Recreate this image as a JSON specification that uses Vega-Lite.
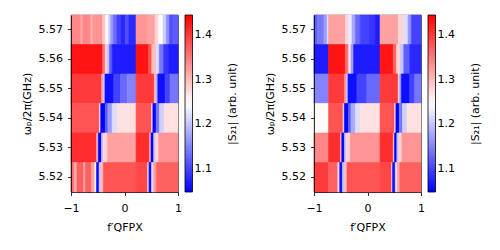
{
  "$schema": "https://vega.github.io/schema/vega-lite/v6.json",
  "padding": {"left": 20, "top": 14, "right": 5, "bottom": 5},
  "background": "white",
  "spacing": 24,
  "config": {
    "font": "DejaVu Sans",
    "view": {"stroke": "black", "strokeWidth": 0.8},
    "axis": {"labelFontSize": 11, "titleFontSize": 11, "titleFontWeight": "normal", "labelColor": "black", "titleColor": "black", "domainColor": "black", "tickColor": "black", "grid": false, "tickSize": 3.5, "domainWidth": 0.8, "tickWidth": 0.8, "labelOverlap": false},
    "legend": {"gradientLength": 177, "gradientThickness": 7.5, "offset": 7, "padding": 0, "labelFontSize": 11, "labelColor": "black", "titleFontSize": 11, "titleFontWeight": "normal", "titleColor": "black", "titleOrient": "right", "titlePadding": 15, "labelOffset": 10, "gradientStrokeColor": "black", "gradientStrokeWidth": 0.8, "labelOverlap": false}
  },
  "datasets": {
    "A": [
      {"w":5.57,"a":-1,"b":-0.815,"s":1.34},{"w":5.57,"a":-0.815,"b":-0.78,"s":1.31},{"w":5.57,"a":-0.78,"b":-0.63,"s":1.34},{"w":5.57,"a":-0.63,"b":-0.59,"s":1.31},{"w":5.57,"a":-0.59,"b":-0.41,"s":1.33},{"w":5.57,"a":-0.41,"b":-0.35,"s":1.29},{"w":5.57,"a":-0.35,"b":-0.3,"s":1.25},{"w":5.57,"a":-0.3,"b":-0.26,"s":1.21},{"w":5.57,"a":-0.26,"b":-0.21,"s":1.17},{"w":5.57,"a":-0.21,"b":-0.14,"s":1.13},{"w":5.57,"a":-0.14,"b":-0.07,"s":1.1},{"w":5.57,"a":-0.07,"b":0.02,"s":1.08},{"w":5.57,"a":0.02,"b":0.08,"s":1.11},{"w":5.57,"a":0.08,"b":0.216,"s":1.08},{"w":5.57,"a":0.216,"b":0.42,"s":1.33},{"w":5.57,"a":0.42,"b":0.57,"s":1.32},{"w":5.57,"a":0.57,"b":0.64,"s":1.28},{"w":5.57,"a":0.64,"b":0.72,"s":1.25},{"w":5.57,"a":0.72,"b":0.78,"s":1.21},{"w":5.57,"a":0.78,"b":0.84,"s":1.16},{"w":5.57,"a":0.84,"b":0.91,"s":1.11},{"w":5.57,"a":0.91,"b":1,"s":1.12},
      {"w":5.56,"a":-1,"b":-0.41,"s":1.43},{"w":5.56,"a":-0.41,"b":-0.36,"s":1.36},{"w":5.56,"a":-0.36,"b":-0.32,"s":1.28},{"w":5.56,"a":-0.32,"b":-0.28,"s":1.2},{"w":5.56,"a":-0.28,"b":-0.23,"s":1.12},{"w":5.56,"a":-0.23,"b":0.216,"s":1.07},{"w":5.56,"a":0.216,"b":0.45,"s":1.43},{"w":5.56,"a":0.45,"b":0.51,"s":1.38},{"w":5.56,"a":0.51,"b":0.59,"s":1.3},{"w":5.56,"a":0.59,"b":0.65,"s":1.22},{"w":5.56,"a":0.65,"b":0.73,"s":1.14},{"w":5.56,"a":0.73,"b":0.82,"s":1.09},{"w":5.56,"a":0.82,"b":1,"s":1.07},
      {"w":5.55,"a":-1,"b":-0.43,"s":1.4},{"w":5.55,"a":-0.43,"b":-0.395,"s":1.32},{"w":5.55,"a":-0.395,"b":-0.365,"s":1.2},{"w":5.55,"a":-0.365,"b":-0.2,"s":1.06},{"w":5.55,"a":-0.2,"b":-0.075,"s":1.1},{"w":5.55,"a":-0.075,"b":0.05,"s":1.13},{"w":5.55,"a":0.05,"b":0.216,"s":1.15},{"w":5.55,"a":0.216,"b":0.556,"s":1.4},{"w":5.55,"a":0.556,"b":0.593,"s":1.3},{"w":5.55,"a":0.593,"b":0.623,"s":1.18},{"w":5.55,"a":0.623,"b":0.76,"s":1.06},{"w":5.55,"a":0.76,"b":0.85,"s":1.1},{"w":5.55,"a":0.85,"b":1,"s":1.14},
      {"w":5.54,"a":-1,"b":-0.47,"s":1.38},{"w":5.54,"a":-0.47,"b":-0.445,"s":1.28},{"w":5.54,"a":-0.445,"b":-0.36,"s":1.05},{"w":5.54,"a":-0.36,"b":-0.31,"s":1.12},{"w":5.54,"a":-0.31,"b":-0.23,"s":1.17},{"w":5.54,"a":-0.23,"b":-0.14,"s":1.22},{"w":5.54,"a":-0.14,"b":0.216,"s":1.27},{"w":5.54,"a":0.216,"b":0.505,"s":1.38},{"w":5.54,"a":0.505,"b":0.53,"s":1.28},{"w":5.54,"a":0.53,"b":0.59,"s":1.05},{"w":5.54,"a":0.59,"b":0.655,"s":1.14},{"w":5.54,"a":0.655,"b":0.74,"s":1.21},{"w":5.54,"a":0.74,"b":1,"s":1.27},
      {"w":5.53,"a":-1,"b":-0.52,"s":1.41},{"w":5.53,"a":-0.52,"b":-0.49,"s":1.3},{"w":5.53,"a":-0.49,"b":-0.43,"s":1.05},{"w":5.53,"a":-0.43,"b":-0.395,"s":1.2},{"w":5.53,"a":-0.395,"b":-0.32,"s":1.28},{"w":5.53,"a":-0.32,"b":0.216,"s":1.32},{"w":5.53,"a":0.216,"b":0.47,"s":1.41},{"w":5.53,"a":0.47,"b":0.495,"s":1.3},{"w":5.53,"a":0.495,"b":0.545,"s":1.05},{"w":5.53,"a":0.545,"b":0.58,"s":1.2},{"w":5.53,"a":0.58,"b":0.64,"s":1.28},{"w":5.53,"a":0.64,"b":1,"s":1.33},
      {"w":5.52,"a":-1,"b":-0.94,"s":1.36},{"w":5.52,"a":-0.94,"b":-0.89,"s":1.31},{"w":5.52,"a":-0.89,"b":-0.765,"s":1.37},{"w":5.52,"a":-0.765,"b":-0.73,"s":1.32},{"w":5.52,"a":-0.73,"b":-0.62,"s":1.37},{"w":5.52,"a":-0.62,"b":-0.555,"s":1.32},{"w":5.52,"a":-0.555,"b":-0.525,"s":1.25},{"w":5.52,"a":-0.525,"b":-0.475,"s":1.06},{"w":5.52,"a":-0.475,"b":-0.445,"s":1.2},{"w":5.52,"a":-0.445,"b":-0.395,"s":1.3},{"w":5.52,"a":-0.395,"b":0.216,"s":1.38},{"w":5.52,"a":0.216,"b":0.43,"s":1.39},{"w":5.52,"a":0.43,"b":0.457,"s":1.28},{"w":5.52,"a":0.457,"b":0.506,"s":1.06},{"w":5.52,"a":0.506,"b":0.543,"s":1.22},{"w":5.52,"a":0.543,"b":0.593,"s":1.32},{"w":5.52,"a":0.593,"b":1,"s":1.37}
    ],
    "B": [
      {"w":5.57,"a":-1,"b":-0.94,"s":1.12},{"w":5.57,"a":-0.94,"b":-0.815,"s":1.14},{"w":5.57,"a":-0.815,"b":-0.755,"s":1.17},{"w":5.57,"a":-0.755,"b":-0.728,"s":1.22},{"w":5.57,"a":-0.728,"b":-0.414,"s":1.32},{"w":5.57,"a":-0.414,"b":-0.352,"s":1.28},{"w":5.57,"a":-0.352,"b":-0.29,"s":1.23},{"w":5.57,"a":-0.29,"b":-0.228,"s":1.18},{"w":5.57,"a":-0.228,"b":-0.136,"s":1.13},{"w":5.57,"a":-0.136,"b":0.02,"s":1.1},{"w":5.57,"a":0.02,"b":0.142,"s":1.09},{"w":5.57,"a":0.142,"b":0.235,"s":1.07},{"w":5.57,"a":0.235,"b":0.574,"s":1.32},{"w":5.57,"a":0.574,"b":0.667,"s":1.28},{"w":5.57,"a":0.667,"b":0.76,"s":1.22},{"w":5.57,"a":0.76,"b":0.82,"s":1.16},{"w":5.57,"a":0.82,"b":1,"s":1.1},
      {"w":5.56,"a":-1,"b":-0.728,"s":1.07},{"w":5.56,"a":-0.728,"b":-0.414,"s":1.43},{"w":5.56,"a":-0.414,"b":-0.352,"s":1.36},{"w":5.56,"a":-0.352,"b":-0.309,"s":1.27},{"w":5.56,"a":-0.309,"b":-0.259,"s":1.17},{"w":5.56,"a":-0.259,"b":0.235,"s":1.07},{"w":5.56,"a":0.235,"b":0.481,"s":1.43},{"w":5.56,"a":0.481,"b":0.543,"s":1.37},{"w":5.56,"a":0.543,"b":0.617,"s":1.28},{"w":5.56,"a":0.617,"b":0.679,"s":1.2},{"w":5.56,"a":0.679,"b":0.79,"s":1.12},{"w":5.56,"a":0.79,"b":1,"s":1.08},
      {"w":5.55,"a":-1,"b":-0.728,"s":1.15},{"w":5.55,"a":-0.728,"b":-0.432,"s":1.4},{"w":5.55,"a":-0.432,"b":-0.395,"s":1.33},{"w":5.55,"a":-0.395,"b":-0.364,"s":1.2},{"w":5.55,"a":-0.364,"b":-0.198,"s":1.06},{"w":5.55,"a":-0.198,"b":-0.012,"s":1.1},{"w":5.55,"a":-0.012,"b":0.235,"s":1.13},{"w":5.55,"a":0.235,"b":0.574,"s":1.4},{"w":5.55,"a":0.574,"b":0.605,"s":1.28},{"w":5.55,"a":0.605,"b":0.636,"s":1.16},{"w":5.55,"a":0.636,"b":0.79,"s":1.06},{"w":5.55,"a":0.79,"b":0.883,"s":1.1},{"w":5.55,"a":0.883,"b":1,"s":1.14},
      {"w":5.54,"a":-1,"b":-0.728,"s":1.25},{"w":5.54,"a":-0.728,"b":-0.457,"s":1.38},{"w":5.54,"a":-0.457,"b":-0.432,"s":1.28},{"w":5.54,"a":-0.432,"b":-0.358,"s":1.05},{"w":5.54,"a":-0.358,"b":-0.309,"s":1.12},{"w":5.54,"a":-0.309,"b":-0.228,"s":1.18},{"w":5.54,"a":-0.228,"b":-0.136,"s":1.22},{"w":5.54,"a":-0.136,"b":0.235,"s":1.27},{"w":5.54,"a":0.235,"b":0.506,"s":1.38},{"w":5.54,"a":0.506,"b":0.531,"s":1.28},{"w":5.54,"a":0.531,"b":0.593,"s":1.05},{"w":5.54,"a":0.593,"b":0.654,"s":1.14},{"w":5.54,"a":0.654,"b":0.741,"s":1.21},{"w":5.54,"a":0.741,"b":1,"s":1.27},
      {"w":5.53,"a":-1,"b":-0.728,"s":1.34},{"w":5.53,"a":-0.728,"b":-0.506,"s":1.41},{"w":5.53,"a":-0.506,"b":-0.481,"s":1.3},{"w":5.53,"a":-0.481,"b":-0.432,"s":1.05},{"w":5.53,"a":-0.432,"b":-0.395,"s":1.2},{"w":5.53,"a":-0.395,"b":-0.321,"s":1.28},{"w":5.53,"a":-0.321,"b":0.235,"s":1.33},{"w":5.53,"a":0.235,"b":0.481,"s":1.41},{"w":5.53,"a":0.481,"b":0.506,"s":1.3},{"w":5.53,"a":0.506,"b":0.549,"s":1.05},{"w":5.53,"a":0.549,"b":0.586,"s":1.2},{"w":5.53,"a":0.586,"b":0.642,"s":1.28},{"w":5.53,"a":0.642,"b":1,"s":1.33},
      {"w":5.52,"a":-1,"b":-0.728,"s":1.4},{"w":5.52,"a":-0.728,"b":-0.556,"s":1.37},{"w":5.52,"a":-0.556,"b":-0.519,"s":1.28},{"w":5.52,"a":-0.519,"b":-0.469,"s":1.06},{"w":5.52,"a":-0.469,"b":-0.432,"s":1.2},{"w":5.52,"a":-0.432,"b":-0.383,"s":1.3},{"w":5.52,"a":-0.383,"b":0.235,"s":1.38},{"w":5.52,"a":0.235,"b":0.451,"s":1.39},{"w":5.52,"a":0.451,"b":0.469,"s":1.28},{"w":5.52,"a":0.469,"b":0.519,"s":1.06},{"w":5.52,"a":0.519,"b":0.556,"s":1.22},{"w":5.52,"a":0.556,"b":0.605,"s":1.32},{"w":5.52,"a":0.605,"b":1,"s":1.37}
    ]
  },
  "resolve": {"scale": {"color": "independent"}, "legend": {"color": "independent"}},
  "hconcat": [
    {
      "width": 107, "height": 177,
      "data": {"name": "A"},
      "mark": {"type": "rect", "strokeWidth": 0.6},
      "encoding": {
        "x": {"field": "a", "type": "quantitative", "scale": {"domain": [-1, 1], "nice": false, "zero": false}, "axis": {"tickCount": 2, "labelExpr": "datum.value == 0 ? '0' : (datum.value < 0 ? '−1' : '1')", "title": "f′QFPX", "labelFlush": false, "labelOverlap": false, "labelPadding": 7, "titlePadding": 8}},
        "x2": {"field": "b"},
        "y": {"field": "w", "type": "ordinal", "sort": "descending", "scale": {"paddingInner": 0, "paddingOuter": 0}, "axis": {"title": "ωₚ/2π(GHz)", "labelAngle": 0, "labelPadding": 5, "titlePadding": 6}},
        "color": {"field": "s", "type": "quantitative", "scale": {"domain": [1.0485, 1.24675, 1.445], "range": ["#0000ff", "#ffffff", "#ff0000"], "interpolate": "rgb"}, "legend": {"title": "|S₂₁| (arb. unit)", "titleOrient": "right", "values": [1.1, 1.2, 1.3, 1.4], "encode": {"title": {"update": {"angle": {"value": -90}, "baseline": {"value": "top"}}}}}},
        "stroke": {"field": "s", "type": "quantitative", "scale": {"domain": [1.0485, 1.24675, 1.445], "range": ["#0000ff", "#ffffff", "#ff0000"], "interpolate": "rgb"}, "legend": null}
      }
    },
    {
      "width": 107, "height": 177,
      "data": {"name": "B"},
      "mark": {"type": "rect", "strokeWidth": 0.6},
      "encoding": {
        "x": {"field": "a", "type": "quantitative", "scale": {"domain": [-1, 1], "nice": false, "zero": false}, "axis": {"tickCount": 2, "labelExpr": "datum.value == 0 ? '0' : (datum.value < 0 ? '−1' : '1')", "title": "f′QFPX", "labelFlush": false, "labelOverlap": false, "labelPadding": 7, "titlePadding": 8}},
        "x2": {"field": "b"},
        "y": {"field": "w", "type": "ordinal", "sort": "descending", "scale": {"paddingInner": 0, "paddingOuter": 0}, "axis": {"title": "ωₚ/2π(GHz)", "labelAngle": 0, "labelPadding": 5, "titlePadding": 6}},
        "color": {"field": "s", "type": "quantitative", "scale": {"domain": [1.0485, 1.24675, 1.445], "range": ["#0000ff", "#ffffff", "#ff0000"], "interpolate": "rgb"}, "legend": {"title": "|S₂₁| (arb. unit)", "titleOrient": "right", "values": [1.1, 1.2, 1.3, 1.4], "encode": {"title": {"update": {"angle": {"value": -90}, "baseline": {"value": "top"}}}}}},
        "stroke": {"field": "s", "type": "quantitative", "scale": {"domain": [1.0485, 1.24675, 1.445], "range": ["#0000ff", "#ffffff", "#ff0000"], "interpolate": "rgb"}, "legend": null}
      }
    }
  ]
}
